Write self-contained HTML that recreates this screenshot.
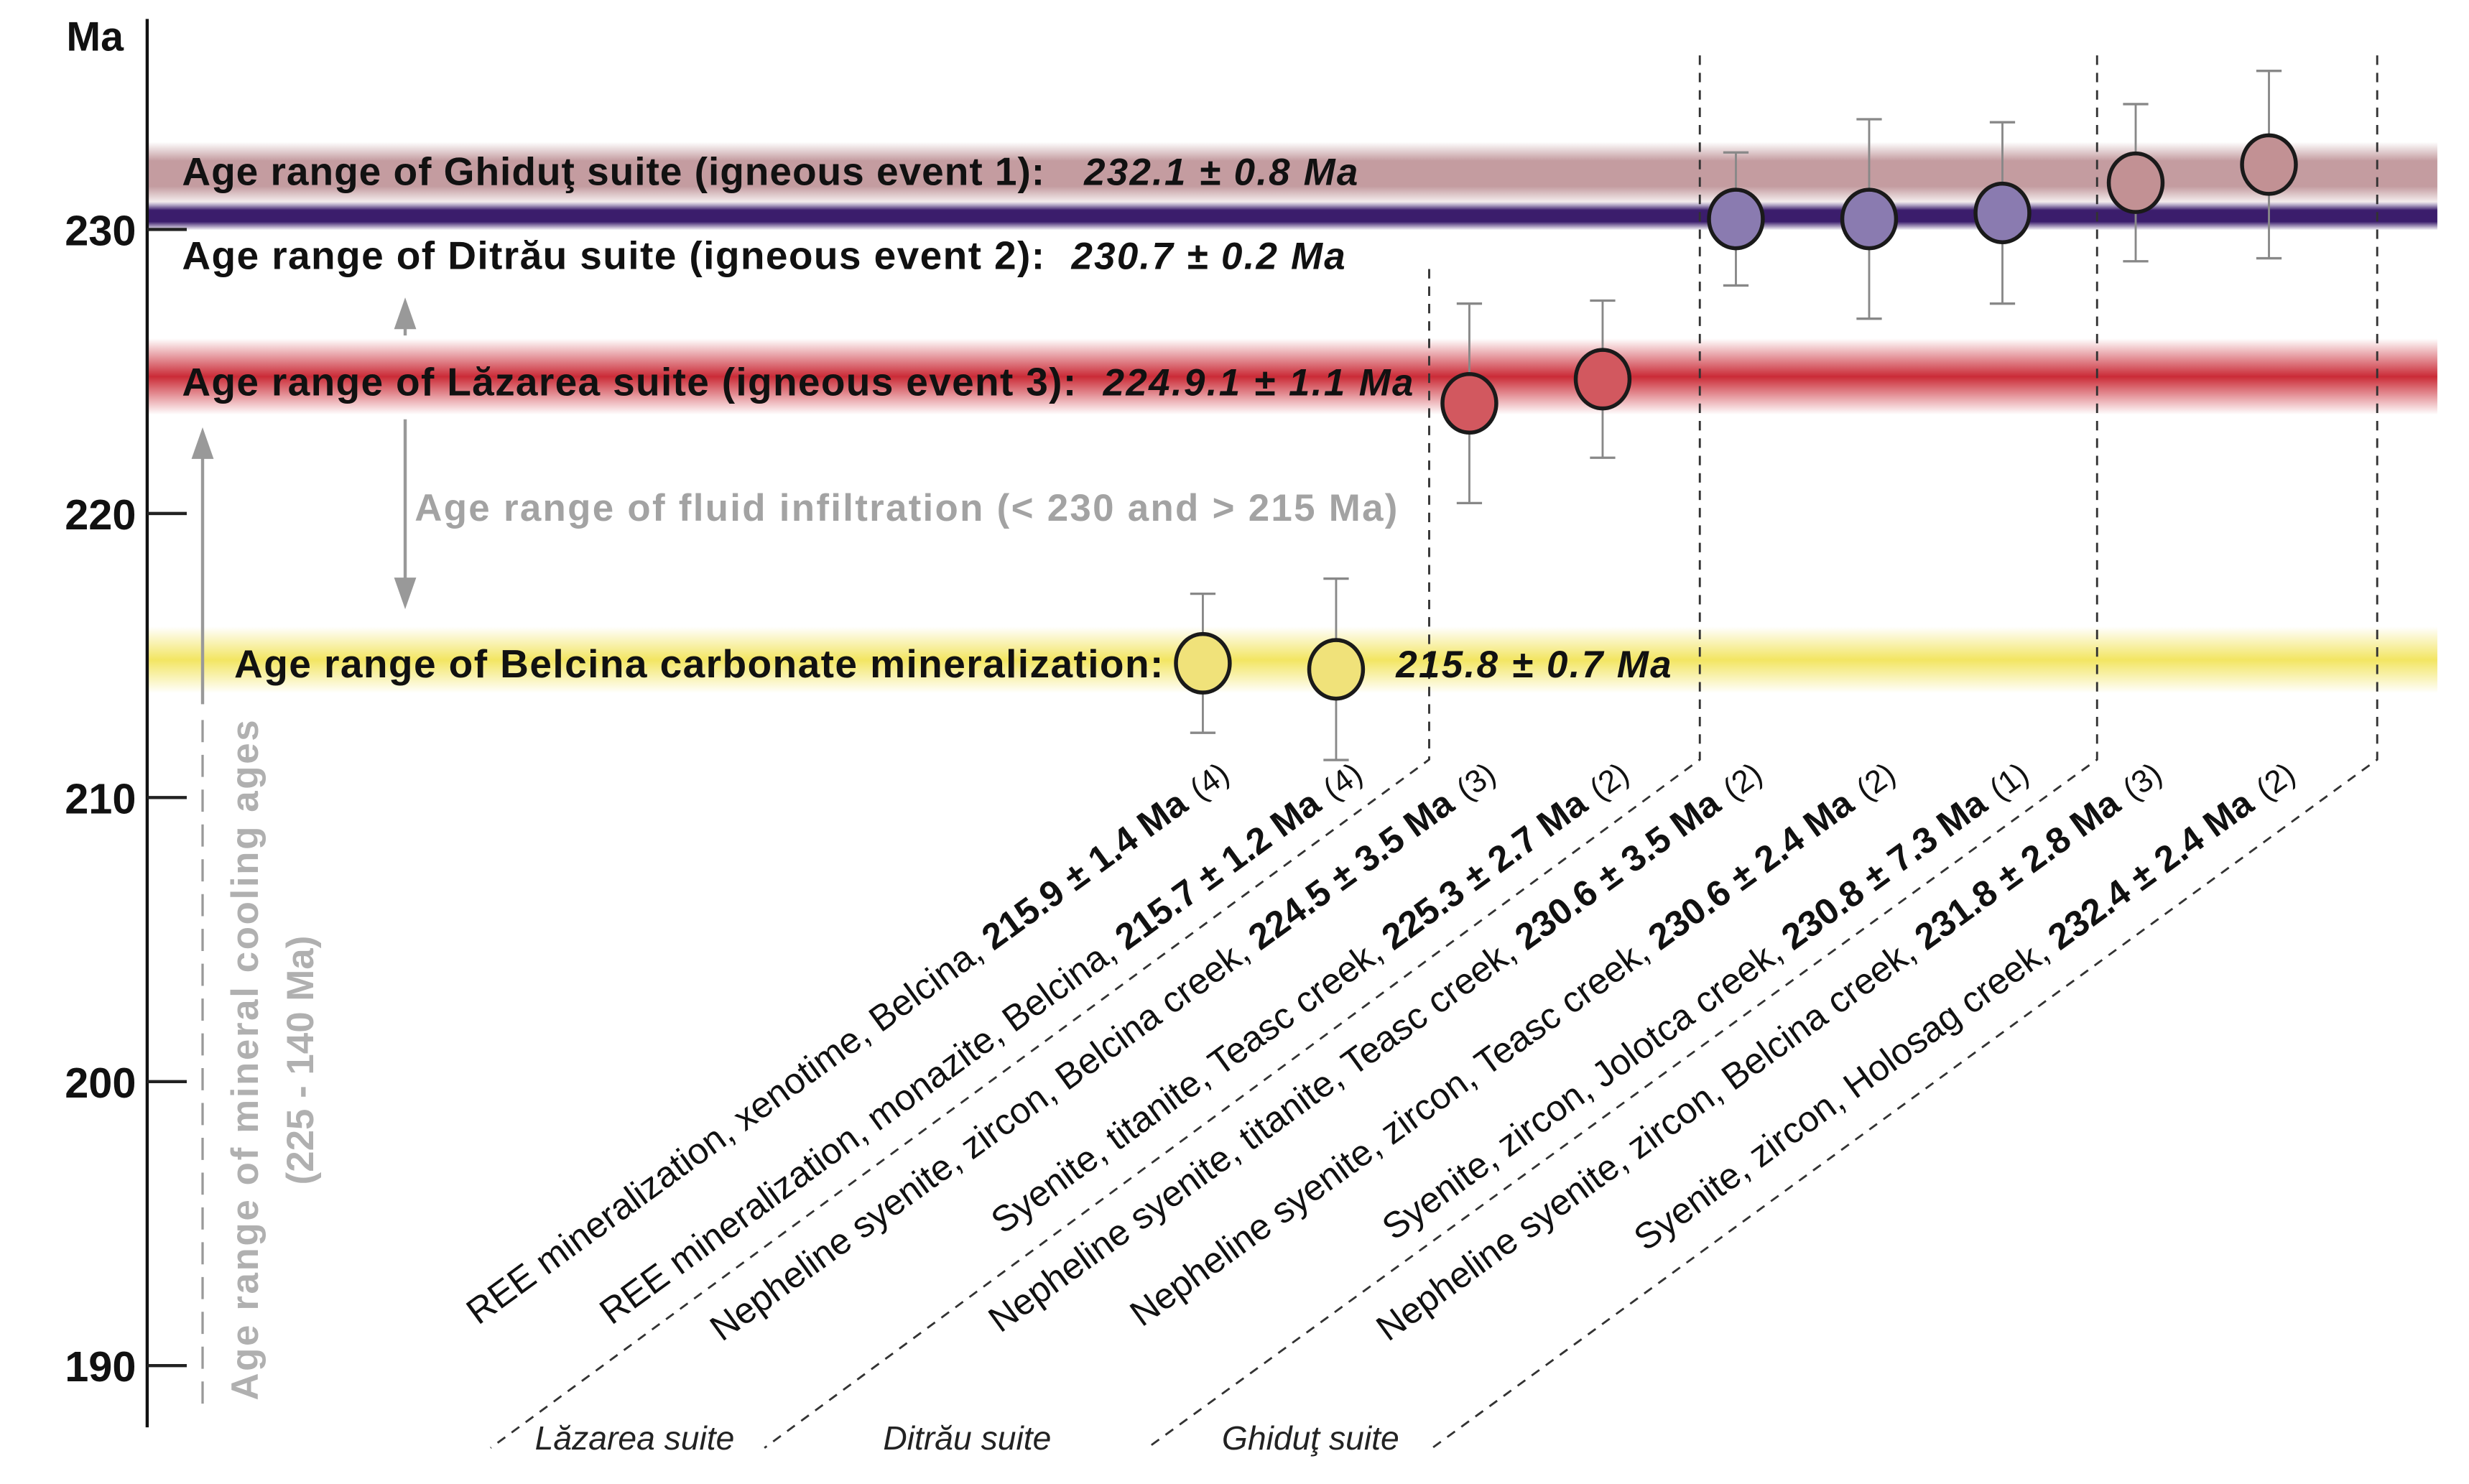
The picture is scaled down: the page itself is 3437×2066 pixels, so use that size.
<!DOCTYPE html>
<html><head><meta charset="utf-8"><style>
html,body{margin:0;padding:0;background:#fff;}
svg{display:block;}
text{font-family:"Liberation Sans",sans-serif;}
</style></head><body>
<svg id="chart" width="3437" height="2066" viewBox="0 0 1560 937.8" preserveAspectRatio="none" xmlns="http://www.w3.org/2000/svg">
<defs>
<linearGradient id="gBrown" x1="0" y1="0" x2="0" y2="1"><stop offset="0" stop-color="#b98a8f" stop-opacity="0"/><stop offset="0.3" stop-color="#b98a8f" stop-opacity="0.85"/><stop offset="0.7" stop-color="#b98a8f" stop-opacity="0.85"/><stop offset="1" stop-color="#b98a8f" stop-opacity="0"/></linearGradient>
<linearGradient id="gPurple" x1="0" y1="0" x2="0" y2="1"><stop offset="0" stop-color="#3b1d6c" stop-opacity="0"/><stop offset="0.3" stop-color="#3b1d6c"/><stop offset="0.7" stop-color="#3b1d6c"/><stop offset="1" stop-color="#3b1d6c" stop-opacity="0"/></linearGradient>
<linearGradient id="gRed" x1="0" y1="0" x2="0" y2="1"><stop offset="0" stop-color="#c8202c" stop-opacity="0"/><stop offset="0.5" stop-color="#c8202c" stop-opacity="0.95"/><stop offset="1" stop-color="#c8202c" stop-opacity="0"/></linearGradient>
<linearGradient id="gYellow" x1="0" y1="0" x2="0" y2="1"><stop offset="0" stop-color="#f2e45a" stop-opacity="0"/><stop offset="0.5" stop-color="#f2e45a" stop-opacity="0.95"/><stop offset="1" stop-color="#f2e45a" stop-opacity="0"/></linearGradient>
</defs>
<g id="bands"></g>
<g id="axis"></g>
<g id="annot"></g>
<g id="marks"></g>
<g id="labels"></g>
</svg>
<script>
const NS='http://www.w3.org/2000/svg';
// Data
const tickValues=[230,220,210,200,190];
const tickLabels=['230','220','210','200','190'];
const sampleAges=[215.9,215.7,224.5,225.3,230.6,230.6,230.8,231.8,232.4];
const sampleErrs=[2.3,3.0,3.3,2.6,2.2,3.3,3.0,2.6,3.1];
const sampleColors=['#f0e27a','#f0e27a','#d2585f','#d2585f','#8a7bb0','#8a7bb0','#8a7bb0','#c29194','#c29194'];
const sampleNames=['REE mineralization, xenotime, Belcina, ','REE mineralization, monazite, Belcina, ','Nepheline syenite, zircon, Belcina creek, ','Syenite, titanite, Teasc creek, ','Nepheline syenite, titanite, Teasc creek, ','Nepheline syenite, zircon, Teasc creek, ','Syenite, zircon, Jolotca creek, ','Nepheline syenite, zircon, Belcina creek, ','Syenite, zircon, Holosag creek, '];
const sampleAgeText=['215.9 ± 1.4 Ma','215.7 ± 1.2 Ma','224.5 ± 3.5 Ma','225.3 ± 2.7 Ma','230.6 ± 3.5 Ma','230.6 ± 2.4 Ma','230.8 ± 7.3 Ma','231.8 ± 2.8 Ma','232.4 ± 2.4 Ma'];
const sampleN=['(4)','(4)','(3)','(2)','(2)','(2)','(1)','(3)','(2)'];
const bandAges=[232.1,230.7,224.9,215.8];

// scales
function yAxis(v){return 145+(230-v)*17.95;}
function yData(v){return 104+(232.4-v)*19.1;}
function xCat(i){return 760+i*84.2;}
function mk(tag,attrs,parent){const e=document.createElementNS(NS,tag);for(const k in attrs)e.setAttribute(k,attrs[k]);parent.appendChild(e);return e;}
const gB=document.getElementById('bands'),gA=document.getElementById('axis'),gN=document.getElementById('annot'),gM=document.getElementById('marks'),gL=document.getElementById('labels');

// bands
const bandFill=['url(#gBrown)','url(#gPurple)','url(#gRed)','url(#gYellow)'];
const bandH=[40,18,48,42];
const bandNames=['band-ghidut','band-ditrau','band-lazarea','band-belcina'];
bandAges.forEach((a,i)=>{
  let yc=yData(a); if(i==3) yc=417; if(i==2) yc=238;
  const r=mk('rect',{x:93,y:yc-bandH[i]/2,width:1447,height:bandH[i],fill:bandFill[i]},gB);
  
  
});

// axis
const ax=mk('line',{x1:93,y1:12,x2:93,y2:902,stroke:'#111','stroke-width':2},gA);


const ma=mk('text',{x:60,y:32,'font-size':26,'font-weight':'bold','text-anchor':'middle',fill:'#111'},gA);ma.textContent='Ma';


tickValues.forEach((v,i)=>{
  const y=yAxis(v);
  const t=mk('line',{x1:93,y1:y,x2:118,y2:y,stroke:'#222','stroke-width':2},gA);
  
  
  const l=mk('text',{x:86,y:y+10,'font-size':27,'font-weight':'bold','text-anchor':'end',fill:'#111'},gA);
  l.textContent=tickLabels[i];
  
  
});

// dashed group separators
const sepTop=[170,35,35,35],sepX=[903,1074,1325,1502],sepBot=[310,483,725,905];
sepX.forEach((x,i)=>{
  const p=mk('path',{d:`M${x},${sepTop[i]} L${x},480 L${sepBot[i]},915`,fill:'none',stroke:'#333','stroke-width':1.3,'stroke-dasharray':'6,5'},gN);
  
  
});

// arrows
function arrow(x,y1,y2,name,dash){
  const l=mk('line',{x1:x,y1:y1,x2:x,y2:y2+(y2<y1?12:-12),stroke:'#999','stroke-width':2},gN);
  if(dash) l.setAttribute('stroke-dasharray',dash);
  
  
  const d=y2<y1?1:-1;
  mk('polygon',{points:`${x},${y2} ${x-7},${y2+d*20} ${x+7},${y2+d*20}`,fill:'#999'},gN);
}
arrow(256,212,188,'arrow-up-ditrau');
arrow(256,265,385,'arrow-down-fluid');
arrow(128,445,270,'arrow-cooling');
const dl=mk('line',{x1:128,y1:455,x2:128,y2:890,stroke:'#999','stroke-width':1.5,'stroke-dasharray':'14,8'},gN);



// band texts
function txt(x,y,s,attrs,name){const t=mk('text',Object.assign({x:x,y:y},attrs),gN);t.textContent=s;return t;}
const B={'font-size':25,'font-weight':'bold',fill:'#111'};
const BI={'font-size':24,'font-weight':'bold','font-style':'italic',fill:'#111'};
txt(115,117,'Age range of Ghiduţ suite (igneous event 1):',Object.assign({textLength:545},B),'ghidut-label');
txt(685,117,'232.1 ± 0.8 Ma',Object.assign({textLength:173},BI),'ghidut-age');
txt(115,170,'Age range of Ditrău suite (igneous event 2):',Object.assign({textLength:545},B),'ditrau-label');
txt(677,170,'230.7 ± 0.2 Ma',Object.assign({textLength:173},BI),'ditrau-age');
txt(115,250,'Age range of Lăzarea suite (igneous event 3):',Object.assign({textLength:565},B),'lazarea-label');
txt(697,250,'224.9.1 ± 1.1 Ma',Object.assign({textLength:196},BI),'lazarea-age');
txt(148,428,'Age range of Belcina carbonate mineralization:',Object.assign({textLength:587},B),'belcina-label');
txt(882,428,'215.8 ± 0.7 Ma',Object.assign({textLength:174},BI),'belcina-age');
txt(262,329,'Age range of fluid infiltration (< 230 and > 215 Ma)',{'font-size':24,'font-weight':'bold',fill:'#a3a3a3',textLength:621},'fluid-label');
txt(0,0,'Age range of mineral cooling ages',{'font-size':24,'font-weight':'bold',fill:'#b0b0b0',textLength:430,transform:'translate(163,885) rotate(-90)'},'cooling-label');
txt(0,0,'(225 - 140 Ma)',{'font-size':24,'font-weight':'bold',fill:'#b0b0b0','text-anchor':'middle',transform:'translate(198,670) rotate(-90)'},'cooling-range');
const I={'font-size':21,'font-style':'italic',fill:'#222'};
txt(338,916,'Lăzarea suite',I,'lazarea-suite');
txt(558,916,'Ditrău suite',I,'ditrau-suite');
txt(772,916,'Ghiduţ suite',I,'ghidut-suite');

// marks
sampleAges.forEach((a,i)=>{
  const x=xCat(i),y=yData(a),e=sampleErrs[i]*19.1;
  const g=mk('g',{},gM);
  
  
  mk('line',{x1:x,y1:y-e,x2:x,y2:y+e,stroke:'#888','stroke-width':1.3},g);
  mk('line',{x1:x-8,y1:y-e,x2:x+8,y2:y-e,stroke:'#888','stroke-width':1.5},g);
  mk('line',{x1:x-8,y1:y+e,x2:x+8,y2:y+e,stroke:'#888','stroke-width':1.5},g);
  mk('ellipse',{cx:x,cy:y,rx:17,ry:18.5,fill:sampleColors[i],stroke:'#1a1a1a','stroke-width':2.5},g);
  const t=mk('text',{x:0,y:0,'font-size':23,'text-anchor':'end',fill:'#111',transform:`translate(${x+18},${492}) rotate(-36)`},gL);
  
  
  const s1=mk('tspan',{},t);s1.textContent=sampleNames[i];
  const s2=mk('tspan',{'font-weight':'bold'},t);s2.textContent=sampleAgeText[i];
  const s3=mk('tspan',{dx:8,'font-size':20},t);s3.textContent=sampleN[i];
});
</script>
</body></html>
